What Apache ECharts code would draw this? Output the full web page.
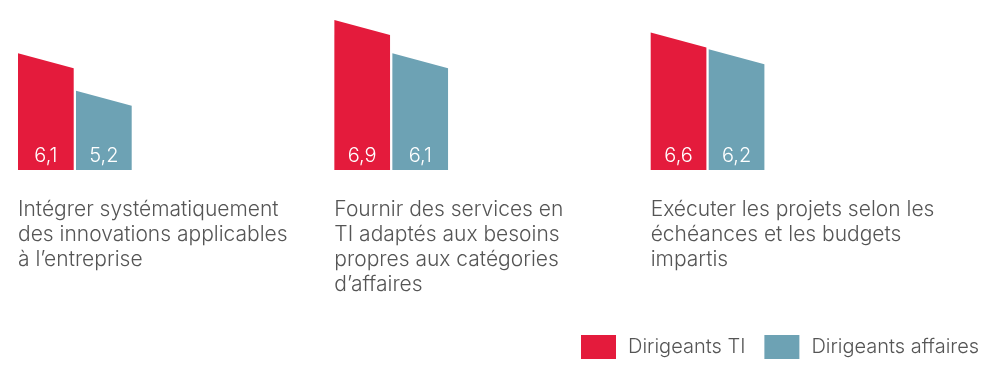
<!DOCTYPE html>
<html><head><meta charset="utf-8">
<script src="https://cdn.jsdelivr.net/npm/echarts@6/dist/echarts.min.js"></script>
<style>html,body{margin:0;padding:0;background:#fff}#c{width:1000px;height:380px}</style>
</head><body><div id="c"></div>
<script>
const categories = [
  'Intégrer systématiquement\ndes innovations applicables\nà l’entreprise',
  'Fournir des services en\nTI adaptés aux besoins\npropres aux catégories\nd’affaires',
  'Exécuter les projets selon les\néchéances et les budgets\nimpartis'
];
const seriesNames = ['Dirigeants TI', 'Dirigeants affaires'];
const tiValues = [6.1, 6.9, 6.6];
const affValues = [5.2, 6.1, 6.2];

const colors = ['#E41B3C', '#6DA2B4'];
const FONT = 'Inter';
const AXIS_MIN = 3.3;
const BAR_W = 55.7, BAR_GAP = 2.3, SLANT = 15;

function makeRender(idx) {
  return function (params, api) {
    const cat = api.value(0), v = api.value(1);
    const top = api.coord([cat, v]);
    const base = api.coord([cat, AXIS_MIN]);
    const x0 = top[0] + idx * (BAR_W + BAR_GAP);
    const x1 = x0 + BAR_W;
    return {
      type: 'group',
      children: [
        { type: 'polygon',
          shape: { points: [[x0, top[1]], [x1, top[1] + SLANT], [x1, base[1]], [x0, base[1]]] },
          style: { fill: colors[idx] } },
        { type: 'text',
          x: (x0 + x1) / 2, y: base[1] - 14,
          style: { text: String(v).replace('.', ','), fill: '#fff', fontSize: 20, fontWeight: 300,
                   fontFamily: FONT, align: 'center', verticalAlign: 'middle' } }
      ]
    };
  };
}

const chart = echarts.init(document.getElementById('c'));
chart.setOption({
  animation: false,
  grid: { left: 18, right: 349.3, top: 20, bottom: 210 },
  xAxis: {
    type: 'category', data: categories, boundaryGap: false,
    axisLine: { show: false }, axisTick: { show: false }, splitLine: { show: false },
    axisLabel: { interval: 0, align: 'left', verticalAlign: 'top', margin: 27.5,
                 fontSize: 21, fontWeight: 300, lineHeight: 25, color: '#555', fontFamily: FONT }
  },
  yAxis: { type: 'value', min: AXIS_MIN, max: 6.9, show: false },
  legend: {
    left: 581, top: 335, padding: 0, itemGap: 19, itemWidth: 35, itemHeight: 24,
    icon: 'rect', data: seriesNames,
    textStyle: { fontSize: 20, fontWeight: 300, color: '#555', fontFamily: FONT, padding: [0, 0, 0, 7] }
  },
  series: [
    { name: seriesNames[0], type: 'custom', renderItem: makeRender(0), clip: false,
      itemStyle: { color: colors[0] }, encode: { x: 0, y: 1 },
      data: tiValues.map((v, i) => [i, v]) },
    { name: seriesNames[1], type: 'custom', renderItem: makeRender(1), clip: false,
      itemStyle: { color: colors[1] }, encode: { x: 0, y: 1 },
      data: affValues.map((v, i) => [i, v]) }
  ]
});
</script></body></html>
